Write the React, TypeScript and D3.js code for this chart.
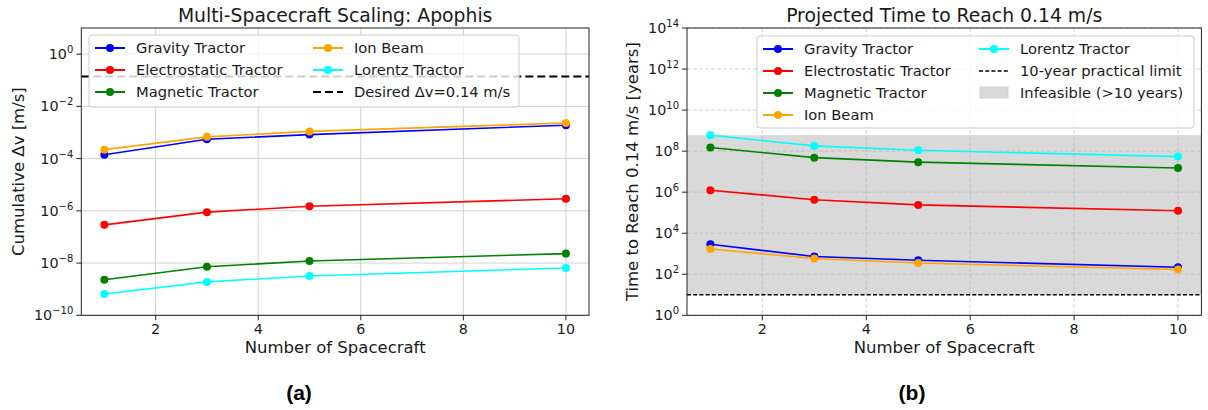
import * as d3 from "d3";

const spacecraft = [1, 3, 5, 10];
const xTicks = [2, 4, 6, 8, 10];

// cumulative delta-v [m/s]
const dvGravity = [1.4e-4, 5.5e-4, 8.3e-4, 1.9e-3];
const dvElectro = [2.9e-7, 8.9e-7, 1.5e-6, 2.9e-6];
const dvMagnetic = [2.3e-9, 7.2e-9, 1.2e-8, 2.3e-8];
const dvIon = [2.2e-4, 6.8e-4, 1.1e-3, 2.3e-3];
const dvLorentz = [6.5e-10, 1.9e-9, 3.2e-9, 6.5e-9];

// time to reach 0.14 m/s [years]
const tGravity = [2.9e3, 730, 480, 220];
const tElectro = [1.25e6, 4.3e5, 2.4e5, 1.25e5];
const tMagnetic = [1.5e8, 4.8e7, 2.9e7, 1.5e7];
const tIon = [1.7e3, 590, 355, 170];
const tLorentz = [6e8, 1.8e8, 1.1e8, 5.4e7];

const dvExpTicks = [-10, -8, -6, -4, -2, 0];
const tExpTicks = [0, 2, 4, 6, 8, 10, 12, 14];

const desiredDv = 0.14;
const limitYears = 10;

const names = ["Gravity Tractor", "Electrostatic Tractor", "Magnetic Tractor", "Ion Beam", "Lorentz Tractor"];
const colors = ["#0000ff", "#ff0000", "#008000", "#ffa500", "#00ffff"];

const FONT = "DejaVu Sans, sans-serif";
const TXT = "#1a1a1a";

type LegendItem = { label: string; kind: "line" | "dash" | "patch"; color: string; dash?: string };

function Legend({ x, y, w, h, rows, col2, items }: { x: number; y: number; w: number; h: number; rows: number; col2: number; items: LegendItem[] }) {
  return (
    <g transform={`translate(${x},${y})`}>
      <rect width={w} height={h} rx={3} fill="#fff" fillOpacity={0.8} stroke="#cccccc" strokeWidth={1} />
      {items.map((it, i) => {
        const col = Math.floor(i / rows);
        const row = i % rows;
        const ox = col === 0 ? 6 : col2;
        const oy = 13 + row * 22;
        return (
          <g key={it.label} transform={`translate(${ox},${oy})`}>
            {it.kind === "line" && (
              <>
                <line x1={0} x2={30} y1={0} y2={0} stroke={it.color} strokeWidth={2} />
                <circle cx={15} cy={0} r={4} fill={it.color} />
              </>
            )}
            {it.kind === "dash" && (
              <line x1={0} x2={30} y1={0} y2={0} stroke={it.color} strokeWidth={it.dash === "4 2.2" ? 1.5 : 2} strokeDasharray={it.dash} />
            )}
            {it.kind === "patch" && <rect x={1} y={-6} width={28} height={11} fill="#d9d9d9" stroke="#cfcfcf" />}
            <text x={41} y={5.3} fontSize={14.7} fontFamily={FONT} fill={TXT}>
              {it.label}
            </text>
          </g>
        );
      })}
    </g>
  );
}

function Panel(props: {
  left: number;
  right: number;
  title: string;
  ylabel: string;
  ylabelX: number;
  yDomain: [number, number];
  expTicks: number[];
  series: number[][];
  dashedGrid: boolean;
  children?: (x: d3.ScaleLinear<number, number>, y: d3.ScaleLogarithmic<number, number>) => any;
  overlay?: (x: d3.ScaleLinear<number, number>, y: d3.ScaleLogarithmic<number, number>) => any;
}) {
  const top = 28;
  const bottom = 315.3;
  const x = d3.scaleLinear().domain([0.55, 10.45]).range([props.left, props.right]);
  const y = d3.scaleLog().domain(props.yDomain).range([bottom, top]);
  const line = d3
    .line<number>()
    .x((_, i) => x(spacecraft[i]))
    .y((d) => y(d));
  const gridStroke = props.dashedGrid ? "#b0b0b0" : "#c4c4c4";
  const gridDash = props.dashedGrid ? "4 2" : undefined;
  const gridOp = props.dashedGrid ? 0.7 : 1;
  const midX = (props.left + props.right) / 2;

  return (
    <g>
      <text x={midX} y={21.7} textAnchor="middle" fontSize={18.8} fontFamily={FONT} fill={TXT}>
        {props.title}
      </text>
      {props.children && props.children(x, y)}
      {xTicks.map((t) => (
        <line key={"gx" + t} x1={x(t)} x2={x(t)} y1={top} y2={bottom} stroke={gridStroke} strokeWidth={0.8} strokeDasharray={gridDash} opacity={gridOp} />
      ))}
      {props.expTicks.map((e) => (
        <line key={"gy" + e} x1={props.left} x2={props.right} y1={y(Math.pow(10, e))} y2={y(Math.pow(10, e))} stroke={gridStroke} strokeWidth={0.8} strokeDasharray={gridDash} opacity={gridOp} />
      ))}
      {props.overlay && props.overlay(x, y)}
      {props.series.map((s, i) => (
        <g key={names[i]}>
          <path d={line(s) ?? ""} fill="none" stroke={colors[i]} strokeWidth={1.6} />
          {s.map((v, j) => (
            <circle key={j} cx={x(spacecraft[j])} cy={y(v)} r={4} fill={colors[i]} />
          ))}
        </g>
      ))}
      <rect x={props.left} y={top} width={props.right - props.left} height={bottom - top} fill="none" stroke="#222" strokeWidth={1} />
      {xTicks.map((t) => (
        <g key={"tx" + t}>
          <line x1={x(t)} x2={x(t)} y1={bottom} y2={bottom + 5} stroke="#222" />
          <text x={x(t)} y={334} textAnchor="middle" fontSize={14.3} fontFamily={FONT} fill={TXT}>
            {t}
          </text>
        </g>
      ))}
      {props.expTicks.map((e) => {
        const yy = y(Math.pow(10, e));
        const sup = e < 0 ? "\u2212" + Math.abs(e) : String(e);
        return (
          <g key={"ty" + e}>
            <line x1={props.left - 5} x2={props.left} y1={yy} y2={yy} stroke="#222" />
            <text x={props.left - 8} y={yy + 5} textAnchor="end" fontSize={14.3} fontFamily={FONT} fill={TXT}>
              10
              <tspan fontSize={10} dy={-6}>
                {sup}
              </tspan>
            </text>
          </g>
        );
      })}
      <text x={midX} y={353.3} textAnchor="middle" fontSize={16.5} fontFamily={FONT} fill={TXT}>
        Number of Spacecraft
      </text>
      <text
        transform={`translate(${props.ylabelX},${(top + bottom) / 2}) rotate(-90)`}
        textAnchor="middle"
        fontSize={16.5}
        fontFamily={FONT}
        fill={TXT}
      >
        {props.ylabel}
      </text>
    </g>
  );
}

export default function App() {
  const dvSeries = [dvGravity, dvElectro, dvMagnetic, dvIon, dvLorentz];
  const tSeries = [tGravity, tElectro, tMagnetic, tIon, tLorentz];
  const shadeTop = d3.max(tSeries.flat()) ?? 1;

  const leftItems: LegendItem[] = [
    ...names.map((n, i) => ({ label: n, kind: "line" as const, color: colors[i] })),
    { label: "Desired \u0394v=0.14 m/s", kind: "dash", color: "#000", dash: "8 4" },
  ];
  const rightItems: LegendItem[] = [
    ...names.map((n, i) => ({ label: n, kind: "line" as const, color: colors[i] })),
    { label: "10-year practical limit", kind: "dash", color: "#000", dash: "4 2.2" },
    { label: "Infeasible (>10 years)", kind: "patch", color: "#d9d9d9" },
  ];

  return (
    <svg width={1208} height={410} style={{ position: "absolute", left: 0, top: 0, background: "#fff" }}>
      <rect width={1208} height={410} fill="#fff" />
      <Panel
        left={81.3}
        right={589}
        title="Multi-Spacecraft Scaling: Apophis"
        ylabel="Cumulative Δv [m/s]"
        ylabelX={24}
        yDomain={[1e-10, 10]}
        expTicks={dvExpTicks}
        series={dvSeries}
        dashedGrid={false}
        overlay={(x, y) => (
          <line x1={x(0.55)} x2={x(10.45)} y1={y(desiredDv)} y2={y(desiredDv)} stroke="#000" strokeWidth={2} strokeDasharray="8 4" />
        )}
      />
      <Panel
        left={687}
        right={1201.4}
        title="Projected Time to Reach 0.14 m/s"
        ylabel="Time to Reach 0.14 m/s [years]"
        ylabelX={638}
        yDomain={[1, 1e14]}
        expTicks={tExpTicks}
        series={tSeries}
        dashedGrid={true}
        children={(x, y) => (
          <rect x={x(0.55)} y={y(shadeTop)} width={x(10.45) - x(0.55)} height={y(limitYears) - y(shadeTop)} fill="#d9d9d9" />
        )}
        overlay={(x, y) => (
          <line x1={x(0.55)} x2={x(10.45)} y1={y(limitYears)} y2={y(limitYears)} stroke="#000" strokeWidth={1.5} strokeDasharray="4 2.2" />
        )}
      />
      <Legend x={89} y={35} w={430} h={72} rows={3} col2={224} items={leftItems} />
      <Legend x={757} y={36} w={437} h={92} rows={4} col2={222} items={rightItems} />
      <text x={299} y={400} textAnchor="middle" fontSize={21} fontWeight="bold" fontFamily="Liberation Sans, Arial, sans-serif" fill="#000">
        (a)
      </text>
      <text x={912} y={400} textAnchor="middle" fontSize={21} fontWeight="bold" fontFamily="Liberation Sans, Arial, sans-serif" fill="#000">
        (b)
      </text>
    </svg>
  );
}
